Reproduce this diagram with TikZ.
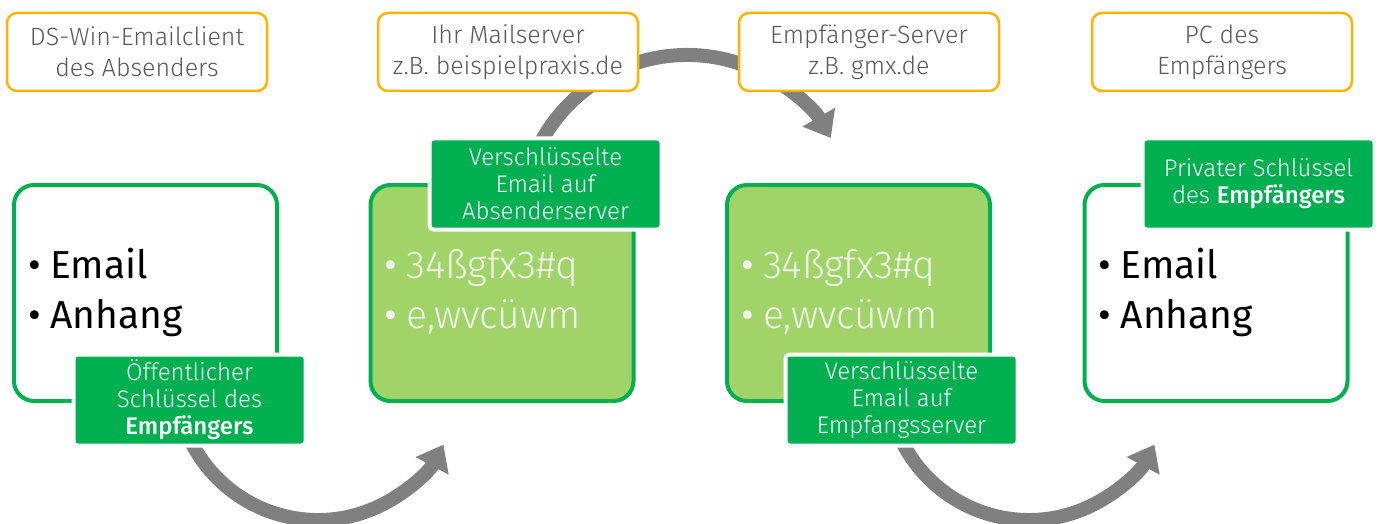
\documentclass[tikz,border=0pt]{standalone}
\usepackage{fontspec}
\setmainfont{Fira Sans}[UprightFont={* Light},BoldFont={* Medium}]
\newfontfamily\kraeftig{Fira Sans}
\usetikzlibrary{arrows.meta}
\definecolor{rahmenorange}{HTML}{FFB300}
\definecolor{gruen}{HTML}{00B050}
\definecolor{hellgruen}{HTML}{A0D468}
\definecolor{pfeilgrau}{HTML}{808080}
\definecolor{textgrau}{HTML}{595959}
\definecolor{geheim}{HTML}{F2F5EE}
\tikzset{
  ort/.style={draw=rahmenorange,line width=2.5pt,fill=white,rounded corners=10pt,
    minimum width=260pt,minimum height=78pt,align=center,text=textgrau,
    font=\fontsize{25}{31}\selectfont},
  kasten/.style={draw=gruen,line width=4pt,rounded corners=20pt,
    minimum width=263pt,minimum height=216pt},
  schild/.style={fill=gruen,draw=white,line width=4pt,rounded corners=4pt,
    minimum width=232pt,minimum height=91pt,align=center,text=white,
    font=\fontsize{24}{27}\selectfont},
  liste/.style={anchor=base west,inner sep=0pt,font=\fontsize{39}{50}\selectfont},
  fluss/.style={pfeilgrau,line width=14pt,-{Triangle[width=36pt,length=24pt]}},
}
\newcommand*\punkte[4][]{%
% #2=Kasten; #3=erste Zeile; #4=zweite Zeile
  \node[liste,#1] (#2-a) at ([shift={(16,-15)}]#2.west) {\makebox[22pt][l]{\kraeftig•}#3};
  \node[liste,#1] (#2-b) at ([shift={(16,35)}]#2.west) {\makebox[22pt][l]{\kraeftig•}#4};
}

\begin{document}
\begin{tikzpicture}[x=1pt,y=-1pt,line cap=round,line join=round]
\useasboundingbox (0,0) rectangle (1379,524);
\clip (0,0) rectangle (1379,524);

% Pfeile zuerst, die Kaesten liegen darueber
\coordinate (m1) at (318,378);
\coordinate (m2) at (687,221);
\coordinate (m3) at (1029,378);
\draw[fluss] ([shift={(155:142)}]m1) arc[start angle=155,end angle=28,radius=142];
\draw[fluss] ([shift={(205:166)}]m2) arc[start angle=205,end angle=330,radius=166];
\draw[fluss] ([shift={(155:142)}]m3) arc[start angle=155,end angle=28,radius=142];

% Stationen oben
\node[ort] (client) at (137,52) {DS-Win-Emailclient\\des Absenders};
\node[ort] (mailserver) at (508,52) {Ihr Mailserver\\z.B. beispielpraxis.de};
\node[ort] (empfserver) at (869,52) {Empfänger-Server\\z.B. gmx.de};
\node[ort] (pc) at (1222,52) {PC des\\Empfängers};

% Inhalt der Nachricht
\node[kasten,fill=white] (k1) at (145.5,293) {};
\node[kasten,fill=hellgruen] (k2) at (502,293) {};
\node[kasten,fill=hellgruen] (k3) at (858.5,293) {};
\node[kasten,fill=white] (k4) at (1216,293) {};

\punkte[font=\fontsize{39}{50}\kraeftig]{k1}{Email}{Anhang}
\punkte[text=geheim]{k2}{34ßgfx3\#q}{e,wvcüwm}
\punkte[text=geheim]{k3}{34ßgfx3\#q}{e,wvcüwm}
\punkte[font=\fontsize{39}{50}\kraeftig]{k4}{Email}{Anhang}

% Schluessel und Zustand
\node[schild] (s1) at (189.5,400) {Öffentlicher\\Schlüssel des\\\textbf{Empfängers}};
\node[schild] (s2) at (545.5,184) {Verschlüsselte\\Email auf\\Absenderserver};
\node[schild] (s3) at (901.5,400) {Verschlüsselte\\Email auf\\Empfangsserver};
\node[schild] (s4) at (1258.5,184) {Privater Schlüssel\\des \textbf{Empfängers}};
\end{tikzpicture}
\end{document}
